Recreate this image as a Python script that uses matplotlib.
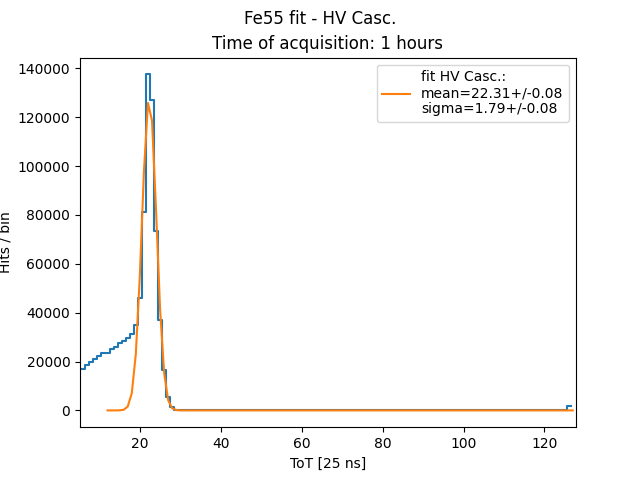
import matplotlib
matplotlib.use("Agg")
import matplotlib.pyplot as plt
import numpy as np

# ToT histogram, bins centred on integer ToT values 6..126
tot_first = 6
peak_counts = [17000, 18400, 19800, 20900, 22100, 23300, 23300, 25100, 25900,
               27400, 28400, 29700, 31200, 34800, 45900, 81000, 137500, 126900,
               73400, 36800, 16400, 5500, 1400, 300, 100]
tail_counts = [0] * 95          # ToT 31..125, flat at zero
last_counts = [1800]            # ToT 126

# Gaussian fit evaluated on integer ToT 12..127
fit_first = 12
fit_peak = [0, 0, 3, 30, 255, 1580, 7030, 23100, 55500, 97700, 125800,
            118600, 81800, 41300, 15300, 4130, 810, 120, 13]
fit_tail = [0] * 97             # ToT 31..127

fit_label = "fit HV Casc.:\nmean=22.31+/-0.08\nsigma=1.79+/-0.08"

counts = np.array(peak_counts + tail_counts + last_counts, dtype=float)
edges = np.arange(len(counts) + 1) + tot_first - 0.5
fit_y = np.array(fit_peak + fit_tail, dtype=float)
fit_x = np.arange(len(fit_y)) + fit_first

fig, ax = plt.subplots(figsize=(6.4, 4.8), dpi=100)
ax.step(edges, np.append(counts, counts[-1]), where="post", color="#1f77b4")
ax.plot(fit_x, fit_y, color="#ff7f0e", label=fit_label)

ax.set_xlim(5.2, 127.8)
ax.set_xlabel("ToT [25 ns]")
ax.set_ylabel("Hits / bin")
ax.set_title("Time of acquisition: 1 hours")
fig.suptitle("Fe55 fit - HV Casc.")
ax.legend(loc="upper right")

fig.savefig("out.png", dpi=100)
